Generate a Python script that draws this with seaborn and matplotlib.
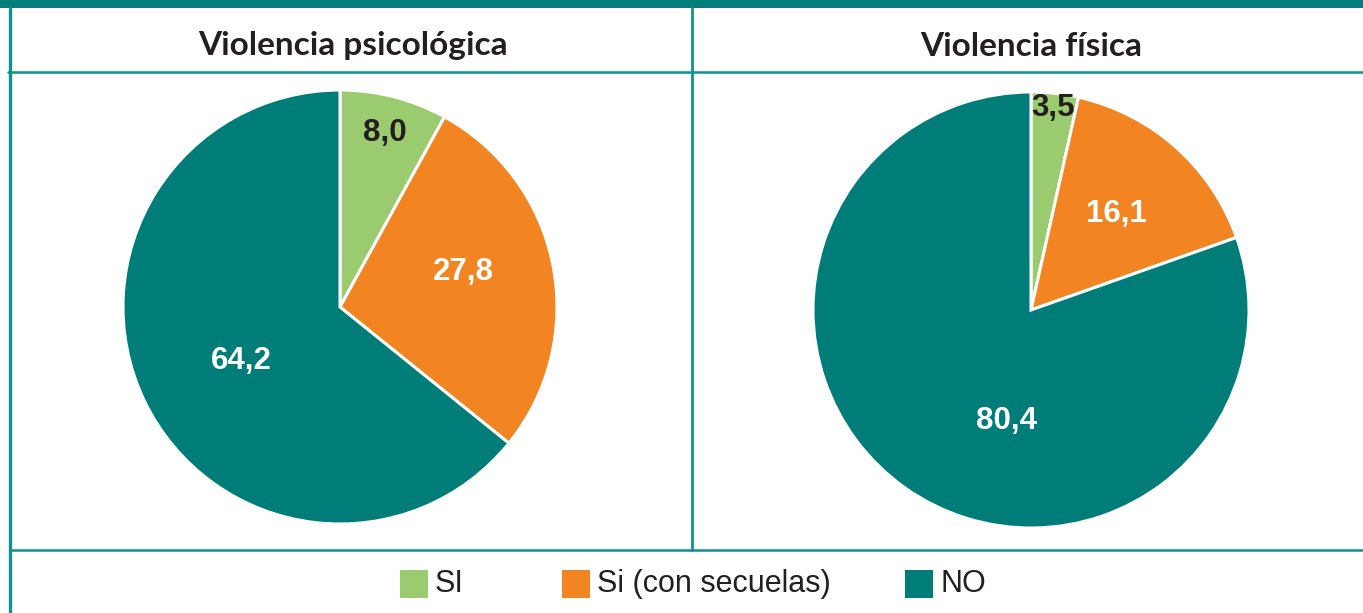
import numpy as np
import matplotlib
matplotlib.use("Agg")
import matplotlib.pyplot as plt
from matplotlib.patches import Rectangle
from matplotlib.lines import Line2D
import seaborn as sns

# ─── Data ─────────────────────────────────────────────────────────────────────
categories = ["SI", "Si (con secuelas)", "NO"]
psicologica = [8.0, 27.8, 64.2]
fisica = [3.5, 16.1, 80.4]
titles = ["Violencia psicológica", "Violencia física"]

# ─── Style ────────────────────────────────────────────────────────────────────
GREEN, ORANGE, TEAL = "#9BCB6F", "#F28421", "#007D78"
LINE = "#12908A"
palette = sns.color_palette([GREEN, ORANGE, TEAL])
label_colors = ["#231F20", "white", "white"]

sns.set_theme(style="white")
plt.rcParams["font.family"] = ["Liberation Sans", "DejaVu Sans"]

W, H = 1363, 613
fig = plt.figure(figsize=(W / 100, H / 100), dpi=100)


def fx(px):
    return px / W


def fy(py):
    return 1 - py / H


# label placement (radius fraction, angle shift in degrees)
label_layout = [
    ([0.83, 0.59, 0.52], [0, 4.7, 3]),
    ([0.93, 0.59, 0.52], [0, 0, 23]),
]
centers = [(340, 307, 217), (1031, 310, 218)]


def draw_pie(values, cx, cy, r, layout):
    ax = fig.add_axes([fx(cx - r), fy(cy + r), fx(2 * r), 2 * r / H])
    wedges, _ = ax.pie(values, colors=palette, startangle=90, counterclock=False,
                       radius=1, wedgeprops=dict(edgecolor="white", linewidth=2.2))
    for w in wedges:
        w.set_clip_on(False)
    ax.set_xlim(-1, 1)
    ax.set_ylim(-1, 1)
    ax.set_aspect("equal")
    ax.axis("off")
    radii, shifts = layout
    for w, v, rr, sh, c in zip(wedges, values, radii, shifts, label_colors):
        ang = np.deg2rad((w.theta1 + w.theta2) / 2 + sh)
        ax.text(rr * np.cos(ang), rr * np.sin(ang), f"{v:.1f}".replace(".", ","),
                ha="center", va="center", fontsize=22.5, fontweight="bold", color=c)
    return ax


for vals, (cx, cy, r), lay in zip([psicologica, fisica], centers, label_layout):
    draw_pie(vals, cx, cy, r, lay)

# ─── Table frame ──────────────────────────────────────────────────────────────
fig.add_artist(Rectangle((0, fy(8)), 1, 8 / H, transform=fig.transFigure,
                         color="#007F7A", lw=0))
frame = [
    ([fx(10), fx(10)], [fy(8), 0], 2.4),
    ([fx(8), 1], [fy(72), fy(72)], 1.8),
    ([fx(692), fx(692)], [fy(8), fy(550)], 2.0),
    ([fx(10), 1], [fy(550), fy(550)], 1.8),
]
for xs, ys, lw in frame:
    fig.add_artist(Line2D(xs, ys, transform=fig.transFigure, color=LINE, lw=lw))

# ─── Titles ───────────────────────────────────────────────────────────────────
for t, xc in zip(titles, [353, 1031]):
    fig.text(fx(xc), fy(46), t, ha="center", va="center", fontsize=24,
             fontweight="bold", color="#231F20", family=["Lato", "DejaVu Sans"])

# ─── Legend ───────────────────────────────────────────────────────────────────
legend_x = [400, 562, 905]
for cat, col, x0 in zip(categories, palette, legend_x):
    fig.add_artist(Rectangle((fx(x0), fy(598)), fx(28), 28 / H,
                             transform=fig.transFigure, color=col, lw=0))
    fig.text(fx(x0 + 35), fy(584), cat, ha="left", va="center", fontsize=22,
             color="#231F20")

fig.savefig("out.png", dpi=100, facecolor="white")
